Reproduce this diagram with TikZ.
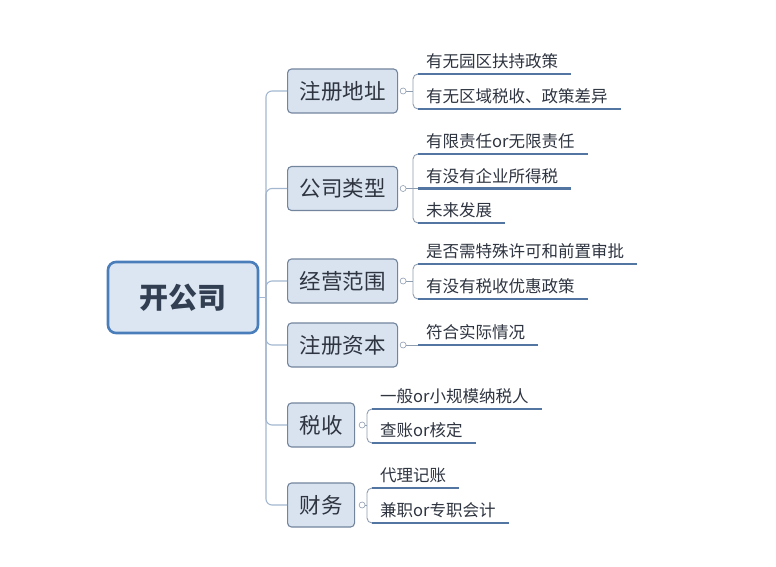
\documentclass[tikz,border=0pt]{standalone}
\usepackage{fontspec}
\setmainfont{Noto Sans CJK SC}
\usetikzlibrary{positioning}
\definecolor{rootline}{HTML}{4A7EBB}
\definecolor{rootfill}{HTML}{DCE6F2}
\definecolor{boxline}{HTML}{73859C}
\definecolor{boxfill}{HTML}{D9E3F0}
\definecolor{trunkline}{HTML}{A3B7D0}
\definecolor{bracketline}{HTML}{8E9DB0}
\definecolor{ulinecol}{HTML}{5275A1}
\definecolor{textcol}{HTML}{2E3440}

\begin{document}
\begin{tikzpicture}[x=1pt, y=-1pt,
    root/.style={draw=rootline, line width=2.6pt, fill=rootfill, rounded corners=8pt, minimum width=150pt, minimum height=71pt, font=\fontsize{29}{32}\selectfont\bfseries, text=textcol!85!rootline},
    branch/.style={draw=boxline, line width=1.1pt, fill=boxfill, rounded corners=4pt, minimum height=44pt, inner xsep=12pt, anchor=west, font=\fontsize{21.5}{24}\selectfont, text=textcol},
    leaf/.style={anchor=south west, inner xsep=13pt, inner ysep=3pt, text height=12pt, text depth=3pt, font=\fontsize{16.5}{18}\selectfont, text=textcol},
    knob/.style={draw=bracketline, fill=white, circle, inner sep=0pt, minimum size=6pt, line width=0.6pt},
    trunk/.style={draw=trunkline, line width=1.1pt, rounded corners=6pt},
    bracket/.style={draw=bracketline, line width=0.9pt, rounded corners=5pt},
    uline/.style={draw=ulinecol, line width=2.2pt}
]
\useasboundingbox[fill=white] (0,0) rectangle (776,567);

% Nodes
\node[root] (root) at (183,297.5) {开公司};
\coordinate (fork) at (266,297.5);

\node[branch] (addr) at (287,91) {注册地址};
\node[branch] (type) at (287,188.5) {公司类型};
\node[branch] (scope) at (287,281) {经营范围};
\node[branch] (capital) at (287,345) {注册资本};
\node[branch] (tax) at (287,425) {税收};
\node[branch] (fin) at (287,505) {财务};

\node[knob] (addrk) at ([xshift=5pt]addr.east) {};
\node[knob] (typek) at ([xshift=5pt]type.east) {};
\node[knob] (scopek) at ([xshift=5pt]scope.east) {};
\node[knob] (capitalk) at ([xshift=5pt]capital.east) {};
\node[knob] (taxk) at ([xshift=7pt]tax.east) {};
\node[knob] (fink) at ([xshift=7pt]fin.east) {};

\node[leaf] (addr1) at (413,74) {有无园区扶持政策};
\node[leaf] (addr2) at (413,109) {有无区域税收、政策差异};
\node[leaf] (type1) at (413,154) {有限责任or无限责任};
\node[leaf] (type2) at (413,188.5) {有没有企业所得税};
\node[leaf] (type3) at (413,223) {未来发展};
\node[leaf] (scope1) at (413,264) {是否需特殊许可和前置审批};
\node[leaf] (scope2) at (413,299) {有没有税收优惠政策};
\node[leaf] (capital1) at (413,345) {符合实际情况};
\node[leaf] (tax1) at (367,409) {一般or小规模纳税人};
\node[leaf] (tax2) at (367,443) {查账or核定};
\node[leaf] (fin1) at (367,488) {代理记账};
\node[leaf] (fin2) at (367,523) {兼职or专职会计};

% Lines
\draw[trunk] (root.east) -- (fork);
\foreach \b in {addr,type,scope,capital,tax,fin}
  \draw[trunk] (fork) |- (\b.west);

\foreach \b/\f/\l in {addr/addr1/addr2, scope/scope1/scope2, tax/tax1/tax2, fin/fin1/fin2, type/type1/type3} {
  \draw[bracket] ([xshift=6pt]\f.south west) -| (\l.south west) -- ([xshift=6pt]\l.south west);
  \draw[bracket] (\b k.east) -- (\b k.east -| \f.south west);
}
\draw[bracket] (type2.south west) -- ([xshift=6pt]type2.south west);
\draw[bracket] (capitalk.east) -- ([xshift=6pt]capital1.south west);

\foreach \n in {addr1,addr2,type1,type2,type3,scope1,scope2,capital1,tax1,tax2,fin1,fin2}
  \draw[uline] ([xshift=5pt]\n.south west) -- (\n.south east);
\end{tikzpicture}
\end{document}
